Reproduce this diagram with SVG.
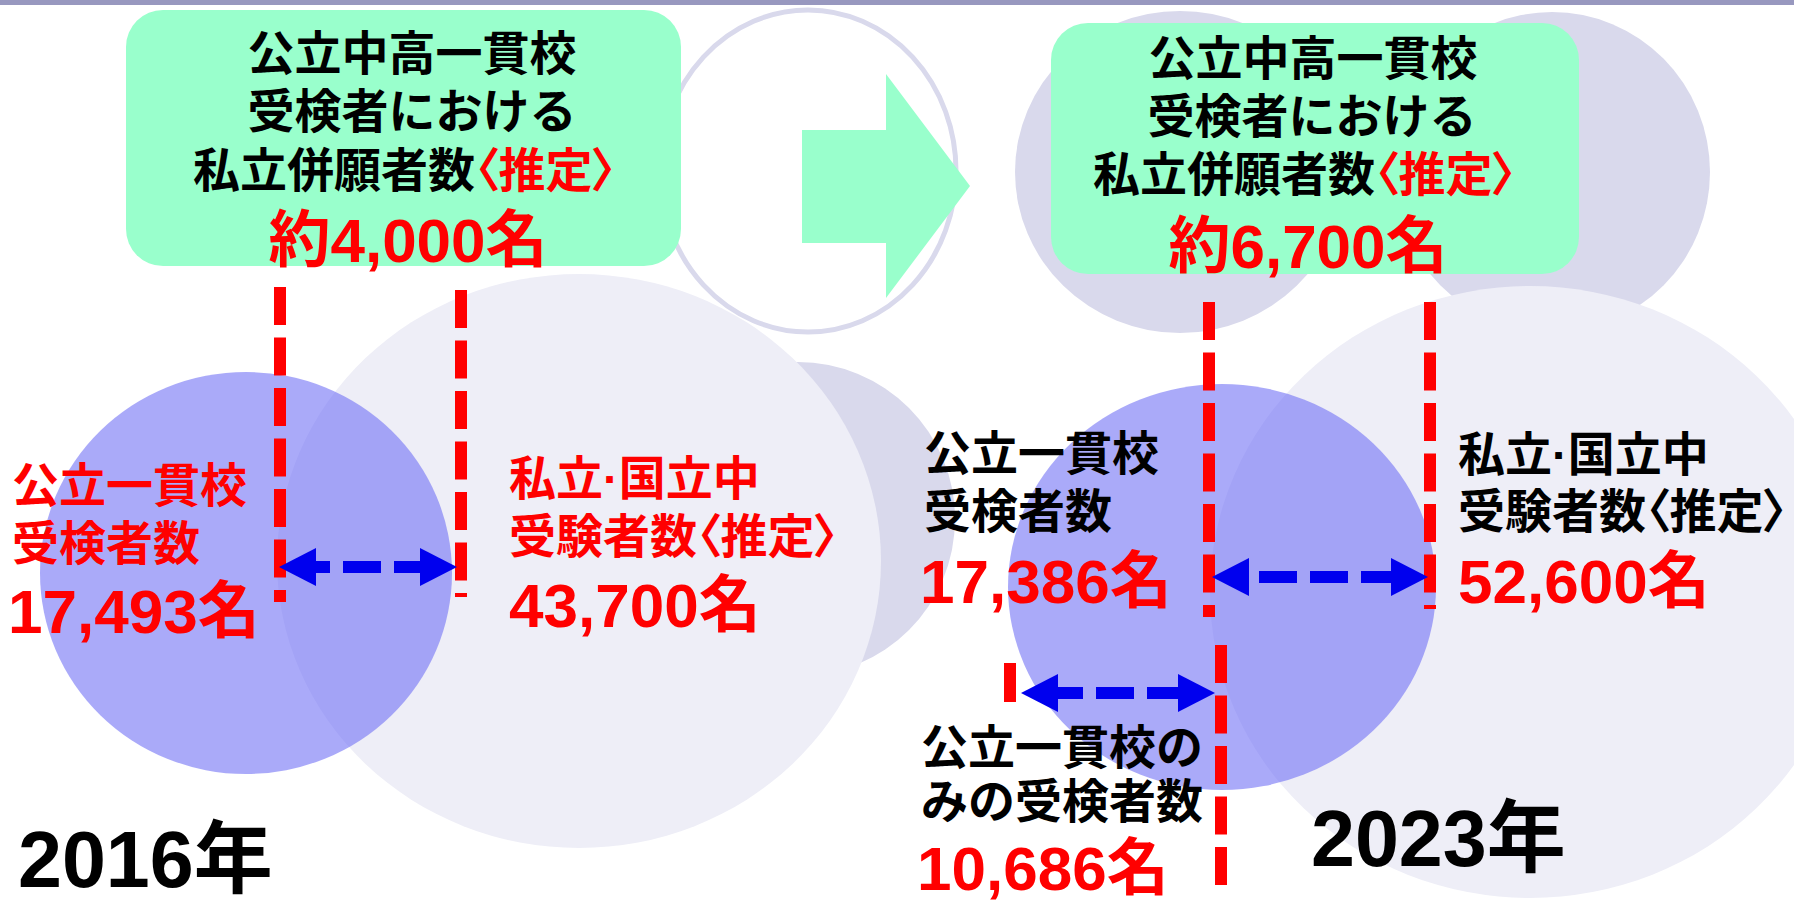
<svg xmlns="http://www.w3.org/2000/svg" width="1794" height="902" viewBox="0 0 1794 902">
<defs>
<style>
text{font-family:"Liberation Sans","Noto Sans CJK JP",sans-serif;font-weight:700;}
.t{font-size:47px;}
.p{font-feature-settings:"palt" 1;}
.n{font-size:62px;fill:#FF0000;}
.y{font-size:79px;fill:#000;}
.blk{fill:#000;}
.red{fill:#FF0000;}
.dark{fill:#D9D9EC;}
.light{fill:#EEEEF7;}
.purple{fill:#6F6FF5;fill-opacity:0.59;}
.box{fill:#99FFCC;}
.rd{stroke:#FF0000;stroke-width:12;stroke-dasharray:38 12.5;fill:none;}
.bl{stroke:#0000EE;stroke-width:12;stroke-dasharray:38 13;fill:none;marker-start:url(#ah);marker-end:url(#ah);}
</style>
<marker id="ah" viewBox="0 0 37 38" refX="0" refY="19" markerWidth="37" markerHeight="38" markerUnits="userSpaceOnUse" orient="auto-start-reverse">
<path d="M0,0 L37,19 L0,38 z" fill="#0000EE"/>
</marker>
</defs>
<rect x="0" y="0" width="1794" height="902" fill="#FFFFFF"/>
<rect x="0" y="0" width="1794" height="5" fill="#9898BF"/>

<g id="backgrounds">
<ellipse class="dark" cx="798" cy="519" rx="157" ry="157"/>
<ellipse class="dark" cx="1180" cy="172" rx="165" ry="161"/>
<ellipse class="dark" cx="1552" cy="172" rx="158" ry="160"/>
<ellipse cx="808" cy="171" rx="148" ry="161" fill="#FFFFFF" stroke="#D9D9EC" stroke-width="5"/>
</g>

<g id="private-2016">
<ellipse class="light" cx="579" cy="561" rx="302" ry="287"/>
</g>
<g id="private-2023">
<ellipse class="light" cx="1530" cy="592" rx="320" ry="306"/>
</g>
<g id="public-2016">
<ellipse class="purple" cx="246" cy="573" rx="206" ry="201"/>
</g>
<g id="public-2023">
<ellipse class="purple" cx="1222" cy="587" rx="214" ry="203"/>
</g>

<g id="transition-arrow">
<polygon class="box" points="802,130 886,130 886,74 970,186 886,298 886,243 802,243"/>
</g>

<g id="box-2016">
<rect class="box" x="126" y="10" width="555" height="256" rx="37" ry="37"/>
<text class="t blk" x="412" y="70" text-anchor="middle">公立中高一貫校</text>
<text class="t blk" x="412" y="128" text-anchor="middle">受検者における</text>
<text class="t blk p" x="193" y="187">私立併願者数<tspan class="red">〈推定〉</tspan></text>
<text class="n" x="408" y="262" text-anchor="middle">約4,000名</text>
</g>

<g id="box-2023">
<rect class="box" x="1051" y="23" width="528" height="251" rx="37" ry="37"/>
<text class="t blk" x="1313" y="75" text-anchor="middle">公立中高一貫校</text>
<text class="t blk" x="1312" y="133" text-anchor="middle">受検者における</text>
<text class="t blk p" x="1093" y="191">私立併願者数<tspan class="red">〈推定〉</tspan></text>
<text class="n" x="1308" y="268" text-anchor="middle">約6,700名</text>
</g>

<g id="label-public-2016">
<text class="t red" x="12" y="502">公立一貫校</text>
<text class="t red" x="12" y="560">受検者数</text>
<text class="n" x="8" y="633">17,493名</text>
</g>

<g id="label-private-2016">
<text class="t red" x="509" y="495">私立·国立中</text>
<text class="t red p" x="509" y="553">受験者数〈推定〉</text>
<text class="n" x="509" y="627">43,700名</text>
</g>

<g id="label-year-2016">
<text class="y" x="18" y="887">2016年</text>
</g>

<g id="label-public-2023">
<text class="t blk" x="924" y="470">公立一貫校</text>
<text class="t blk" x="924" y="528">受検者数</text>
<text class="n" x="920" y="603">17,386名</text>
</g>

<g id="label-private-2023">
<text class="t blk" x="1458" y="471">私立·国立中</text>
<text class="t blk p" x="1458" y="528">受験者数〈推定〉</text>
<text class="n" x="1458" y="603">52,600名</text>
</g>

<g id="label-public-only-2023">
<text class="t blk" x="921" y="764">公立一貫校の</text>
<text class="t blk" x="921" y="818">みの受検者数</text>
<text class="n" x="917" y="890">10,686名</text>
</g>

<g id="label-year-2023">
<text class="y" x="1311" y="866">2023年</text>
</g>

<g id="connectors">
<line class="rd" x1="280" y1="287" x2="280" y2="602"/>
<line class="rd" x1="461" y1="290" x2="461" y2="597"/>
<line class="rd" x1="1209" y1="302" x2="1209" y2="617"/>
<line class="rd" x1="1430" y1="302" x2="1430" y2="609"/>
<line class="rd" x1="1221" y1="645" x2="1221" y2="885"/>
<line x1="1010" y1="663" x2="1010" y2="702" stroke="#FF0000" stroke-width="12"/>
<line class="bl" x1="316" y1="567" x2="420" y2="567" stroke-dashoffset="24"/>
<line class="bl" x1="1249" y1="577" x2="1391" y2="577" stroke-dashoffset="41"/>
<line class="bl" x1="1058" y1="693" x2="1178" y2="693" stroke-dashoffset="13"/>
</g>
</svg>
